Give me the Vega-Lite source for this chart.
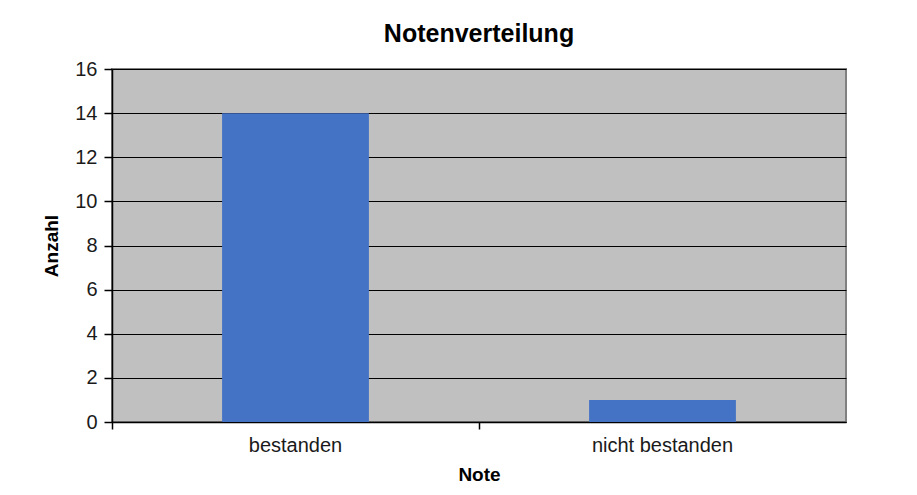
{
  "$schema": "https://vega.github.io/schema/vega-lite/v6.json",
  "autosize": "none",
  "width": 734,
  "height": 353,
  "padding": {"left": 112, "top": 69, "right": 71, "bottom": 73},
  "background": "white",
  "title": {"text": "Notenverteilung", "font": "Liberation Sans", "fontSize": 25, "fontWeight": "bold", "color": "black", "offset": 12},
  "data": {"values": [
    {"Note": "bestanden", "Anzahl": 14},
    {"Note": "nicht bestanden", "Anzahl": 1}
  ]},
  "mark": {"type": "bar", "color": "#4472C4", "width": {"band": 0.4}},
  "encoding": {
    "x": {"field": "Note", "type": "nominal", "sort": null,
      "scale": {"paddingInner": 0, "paddingOuter": 0},
      "axis": {"title": "Note", "labelAngle": 0, "bandPosition": 0, "labelPadding": 6, "titlePadding": 10, "tickSize": 7}
    },
    "y": {"field": "Anzahl", "type": "quantitative",
      "scale": {"domain": [0, 16]},
      "axis": {"title": "Anzahl", "values": [0,2,4,6,8,10,12,14,16], "titlePadding": 13, "labelPadding": 7, "tickSize": 8}
    }
  },
  "config": {
    "view": {"fill": "#C0C0C0", "stroke": "#808080", "strokeWidth": 2},
    "axis": {
      "labelFont": "Liberation Sans", "labelFontSize": 20, "labelColor": "#1a1a1a",
      "titleFont": "Liberation Sans", "titleFontSize": 19, "titleFontWeight": "bold", "titleColor": "black",
      "domainColor": "black", "domainWidth": 1.5, "tickColor": "black", "tickWidth": 1.5,
      "gridColor": "black", "gridWidth": 1, "gridOpacity": 1
    },
    "axisX": {"grid": false}
  }
}
